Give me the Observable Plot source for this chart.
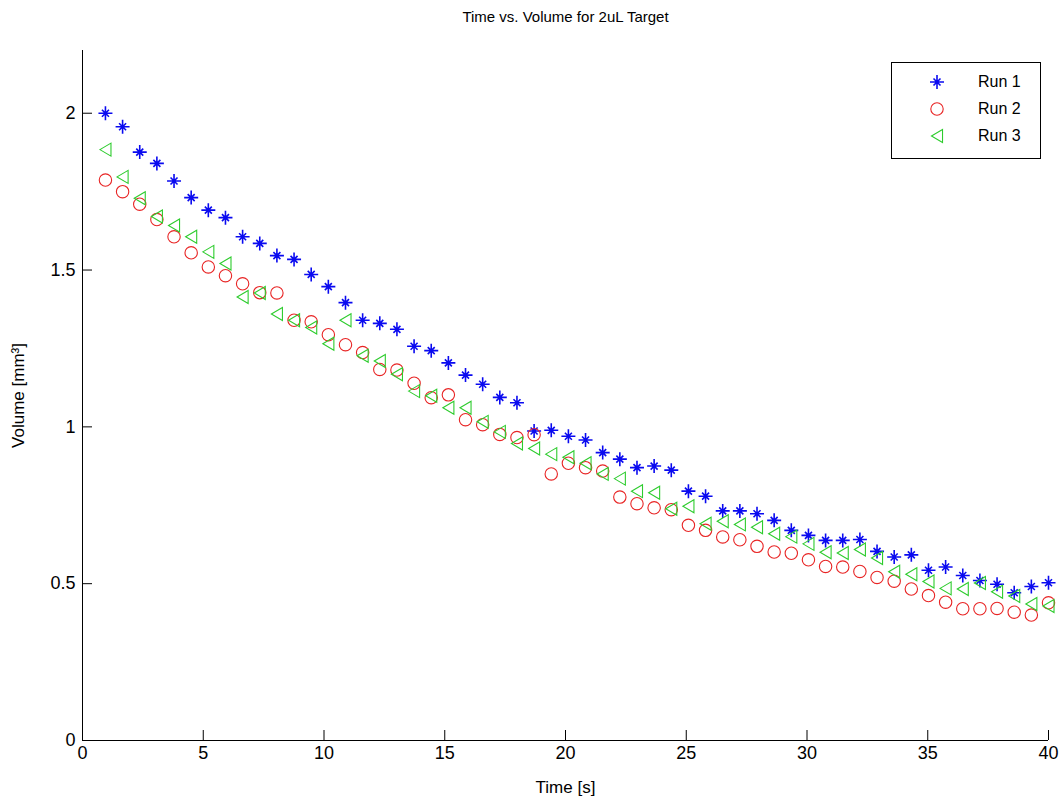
<!DOCTYPE html>
<html><head><meta charset="utf-8">
<script src="https://cdn.jsdelivr.net/npm/d3@7"></script>
<script src="https://cdn.jsdelivr.net/npm/@observablehq/plot@0.6"></script>
<style>
body{margin:0;background:#fff;}
#wrap{position:relative;width:1059px;height:800px;font-family:"Liberation Sans",Arial,sans-serif;}
#legend{position:absolute;left:891px;top:62px;width:150px;height:97px;border:1px solid #000;background:#fff;box-sizing:border-box;font-size:16px;}
#legend .row{position:absolute;left:0;height:20px;line-height:20px;}
#legend .row svg{position:absolute;left:37px;top:2px;}
#legend .row span{position:absolute;left:86px;top:0;white-space:nowrap;}
</style></head><body><div id="wrap"><div id="chart"></div><div id="legend"></div></div>
<script>
const title = "Time vs. Volume for 2uL Target";
const xLabel = "Time [s]";
const yLabel = "Volume [mm³]";
const seriesNames = ["Run 1", "Run 2", "Run 3"];
const xTicks = [0, 5, 10, 15, 20, 25, 30, 35, 40];
const yTicks = [0, 0.5, 1, 1.5, 2];
const yTickLabels = ["0", "0.5", "1", "1.5", "2"];

const time = [0.95, 1.66, 2.37, 3.08, 3.79, 4.50, 5.21, 5.92, 6.63, 7.34,
  8.05, 8.76, 9.47, 10.18, 10.89, 11.60, 12.31, 13.02, 13.73, 14.44,
  15.15, 15.86, 16.57, 17.28, 17.99, 18.70, 19.41, 20.12, 20.83, 21.54,
  22.25, 22.96, 23.67, 24.38, 25.09, 25.80, 26.51, 27.22, 27.93, 28.64,
  29.35, 30.06, 30.77, 31.48, 32.19, 32.90, 33.61, 34.32, 35.03, 35.74,
  36.45, 37.16, 37.87, 38.58, 39.29, 40.00];
const run1 = [2.00, 1.957, 1.876, 1.840, 1.784, 1.731, 1.691, 1.667, 1.606, 1.585,
  1.546, 1.534, 1.486, 1.447, 1.396, 1.340, 1.330, 1.311, 1.257, 1.243,
  1.204, 1.165, 1.136, 1.094, 1.077, 0.987, 0.989, 0.970, 0.958, 0.918,
  0.897, 0.870, 0.875, 0.862, 0.795, 0.779, 0.732, 0.732, 0.723, 0.702,
  0.670, 0.654, 0.638, 0.638, 0.641, 0.603, 0.585, 0.592, 0.543, 0.553,
  0.526, 0.510, 0.498, 0.471, 0.491, 0.503];
const run2 = [1.787, 1.750, 1.710, 1.661, 1.606, 1.555, 1.510, 1.482, 1.456, 1.428,
  1.427, 1.340, 1.335, 1.294, 1.262, 1.237, 1.183, 1.181, 1.139, 1.093,
  1.102, 1.023, 1.007, 0.976, 0.966, 0.975, 0.850, 0.884, 0.870, 0.859,
  0.776, 0.755, 0.742, 0.736, 0.686, 0.670, 0.649, 0.640, 0.619, 0.601,
  0.597, 0.576, 0.555, 0.553, 0.539, 0.520, 0.508, 0.483, 0.462, 0.441,
  0.420, 0.420, 0.421, 0.409, 0.400, 0.439];
const run3 = [1.884, 1.797, 1.729, 1.671, 1.642, 1.606, 1.558, 1.521, 1.414, 1.427,
  1.360, 1.340, 1.317, 1.265, 1.340, 1.227, 1.210, 1.168, 1.114, 1.099,
  1.061, 1.061, 1.016, 0.984, 0.947, 0.931, 0.913, 0.903, 0.884, 0.850,
  0.835, 0.795, 0.790, 0.739, 0.747, 0.691, 0.699, 0.689, 0.680, 0.659,
  0.650, 0.627, 0.600, 0.598, 0.609, 0.582, 0.538, 0.530, 0.507, 0.485,
  0.483, 0.502, 0.474, 0.461, 0.435, 0.429];

const colors = ["#0a0af0", "#e82424", "#2ecc2e"];

const starSym = {draw(ctx, size) {
  const r = Math.sqrt(size / Math.PI), d = r * 0.5;
  ctx.moveTo(-r, 0); ctx.lineTo(r, 0);
  ctx.moveTo(0, -r); ctx.lineTo(0, r);
  ctx.moveTo(-d, -d); ctx.lineTo(d, d);
  ctx.moveTo(-d, d); ctx.lineTo(d, -d);
}};
const triSym = {draw(ctx, size) {
  const r = Math.sqrt(size / Math.PI), w = r * 0.85;
  ctx.moveTo(-w, 0); ctx.lineTo(w, -r); ctx.lineTo(w, r); ctx.closePath();
}};
const circSym = {draw(ctx, size) {
  const r = Math.sqrt(size / Math.PI);
  ctx.moveTo(r, 0); ctx.arc(0, 0, r, 0, 2 * Math.PI);
}};
const symbols = [starSym, circSym, triSym];
const radii = [7, 6.2, 6.5];
const widths = [1.6, 1.1, 1.1];

const series = [run1, run2, run3];
const data = series.map((vals, s) => vals.map((v, i) => ({t: time[i], v, s: seriesNames[s]})));

const font = '"Liberation Sans",Arial,sans-serif';

const chart = Plot.plot({
  width: 1059, height: 800,
  marginLeft: 82, marginRight: 11, marginTop: 50, marginBottom: 60,
  style: {background: "white", fontFamily: font, fontSize: "18px", color: "black", overflow: "visible"},
  x: {domain: [0, 40]},
  y: {domain: [0, 2.2]},
  marks: [
    Plot.axisX({ticks: xTicks, tickSize: -10, tickFormat: () => "", label: null}),
    Plot.axisX({ticks: xTicks, tickSize: 0, tickPadding: 6, tickFormat: d => String(d), label: null}),
    Plot.axisY({ticks: yTicks, tickSize: -10, tickFormat: () => "", label: null}),
    Plot.axisY({ticks: yTicks, tickSize: 0, tickPadding: 7, tickFormat: d => yTickLabels[yTicks.indexOf(d)], label: null}),
    Plot.ruleY([0], {stroke: "black", strokeWidth: 1}),
    Plot.ruleX([0], {stroke: "black", strokeWidth: 1}),
    ...data.map((d, s) => Plot.dot(d, {x: "t", y: "v", symbol: symbols[s], r: radii[s], stroke: colors[s], strokeWidth: widths[s], fill: "none"})),
    Plot.text([title], {text: d => d, frameAnchor: "top", lineAnchor: "middle", textAnchor: "middle", dy: -33, fontSize: 15}),
    Plot.text([xLabel], {text: d => d, frameAnchor: "bottom", lineAnchor: "middle", textAnchor: "middle", dy: 47, fontSize: 17}),
    Plot.text([yLabel], {text: d => d, frameAnchor: "left", lineAnchor: "middle", textAnchor: "middle", dx: -64, rotate: -90, fontSize: 17})
  ]
});
document.getElementById("chart").appendChild(chart);

// legend
const legend = document.getElementById("legend");
const rowTops = [9, 36, 63];
seriesNames.forEach((name, s) => {
  const row = document.createElement("div");
  row.className = "row";
  row.style.top = rowTops[s] + "px";
  const p = d3.path();
  symbols[s].draw(p, radii[s] * radii[s] * Math.PI);
  row.innerHTML = `<svg width="16" height="16" viewBox="-8 -8 16 16"><path d="${p.toString()}" fill="none" stroke="${colors[s]}" stroke-width="${widths[s]}"/></svg><span>${name}</span>`;
  legend.appendChild(row);
});
</script>
</body></html>
